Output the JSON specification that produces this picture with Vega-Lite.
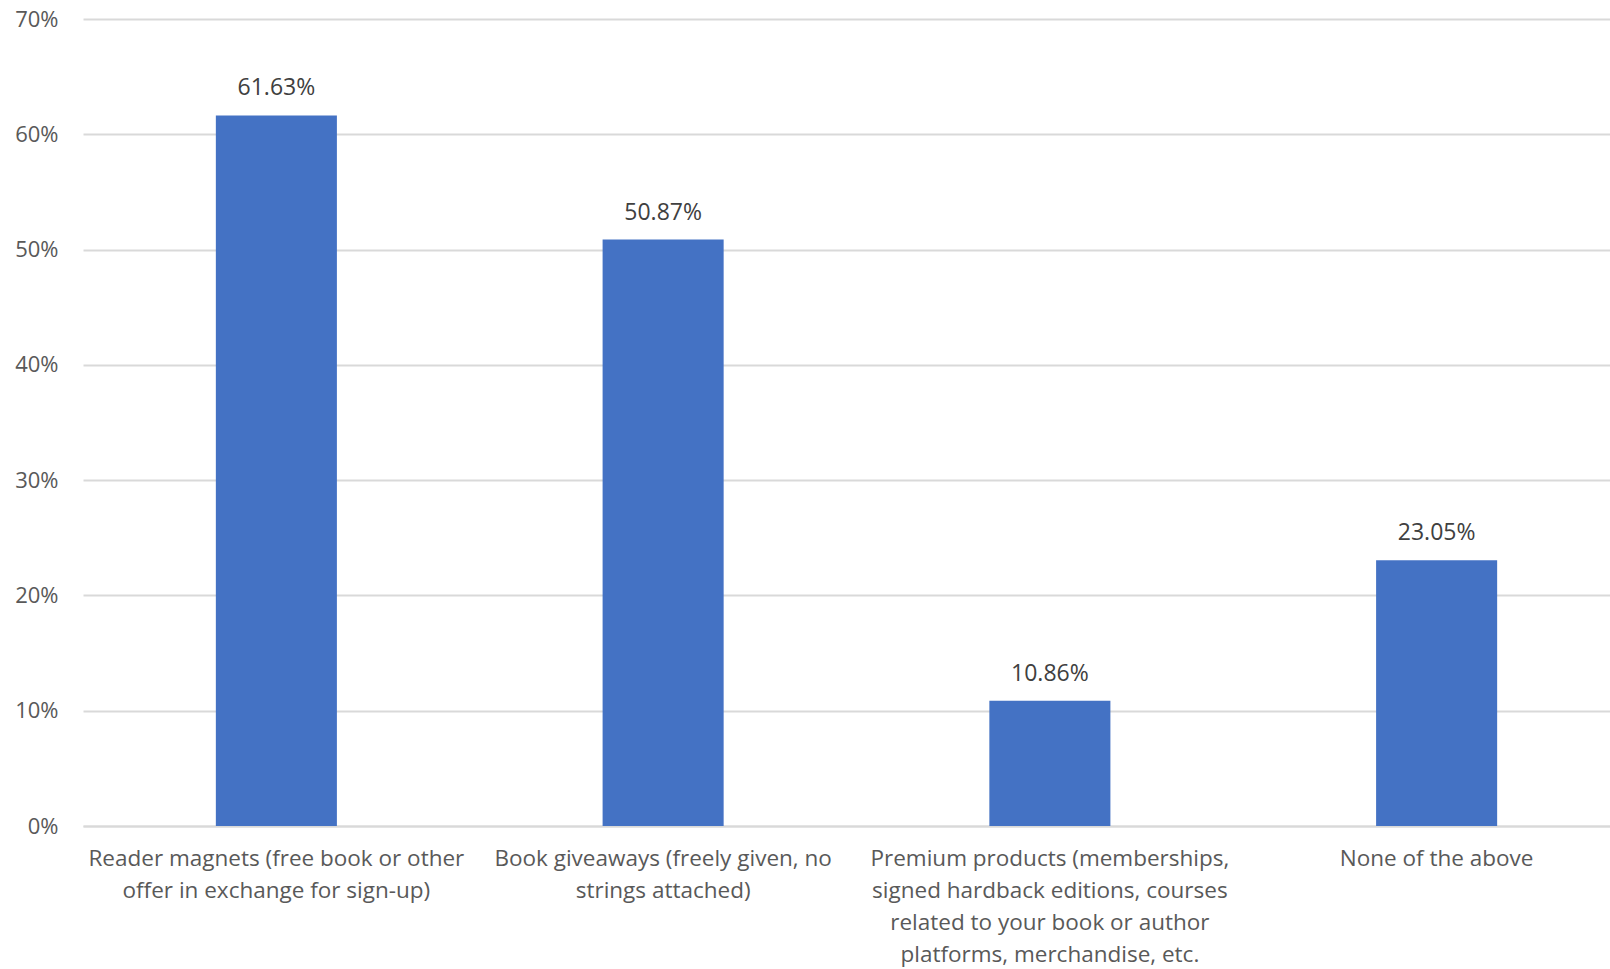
{
  "$schema": "https://vega.github.io/schema/vega-lite/v6.json",
  "autosize": {"type": "none"},
  "padding": {"left": 83, "top": 19, "right": 0, "bottom": 143},
  "width": 1527,
  "height": 807,
  "background": "white",
  "config": {
    "view": {"stroke": null},
    "font": "Open Sans"
  },
  "data": {
    "values": [
      {"category": "Reader magnets (free book or other|offer in exchange for sign-up)", "value": 0.6163},
      {"category": "Book giveaways (freely given, no|strings attached)", "value": 0.5087},
      {"category": "Premium products (memberships,|signed hardback editions, courses|related to your book or author|platforms, merchandise, etc.", "value": 0.1086},
      {"category": "None of the above", "value": 0.2305}
    ]
  },
  "encoding": {
    "x": {
      "field": "category",
      "type": "nominal",
      "sort": null,
      "scale": {"paddingInner": 0.687, "paddingOuter": 0.3435, "range": [0, 1547]},
      "axis": {
        "title": null,
        "labelAngle": 0,
        "labelExpr": "split(datum.label, '|')",
        "labelFont": "Open Sans",
        "labelFontSize": 22.5,
        "labelLineHeight": 32,
        "labelColor": "#595959",
        "labelPadding": 21,
        "labelLimit": 0,
        "ticks": false,
        "domainColor": "#d9d9d9",
        "domainWidth": 2,
        "grid": false
      }
    },
    "y": {
      "field": "value",
      "type": "quantitative",
      "scale": {"domain": [0, 0.7], "nice": false},
      "axis": {
        "title": null,
        "format": ".0%",
        "values": [0, 0.1, 0.2, 0.3, 0.4, 0.5, 0.6, 0.7],
        "labelFont": "Open Sans",
        "labelFontSize": 22,
        "labelColor": "#595959",
        "labelPadding": 25,
        "ticks": false,
        "domain": false,
        "gridColor": "#d9d9d9",
        "gridWidth": 2
      }
    }
  },
  "layer": [
    {"mark": {"type": "bar", "color": "#4472C4"}},
    {
      "mark": {"type": "text", "baseline": "middle", "dy": -27, "fontSize": 23, "color": "#404040", "font": "Open Sans"},
      "encoding": {"text": {"field": "value", "type": "quantitative", "format": ".2%"}}
    }
  ]
}
